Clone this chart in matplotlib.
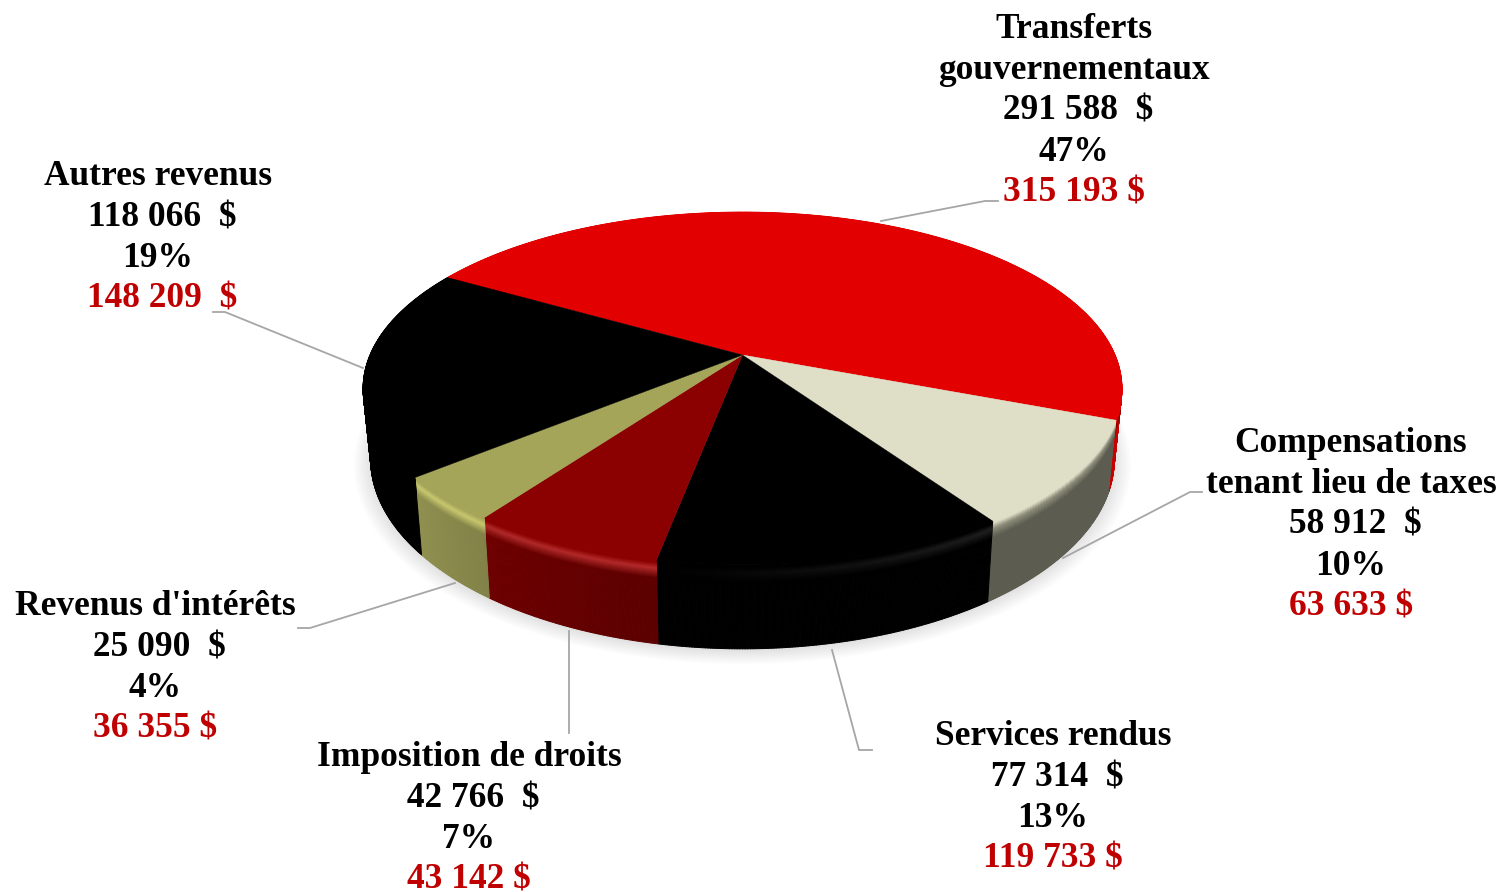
"""Perspective 3D pie of revenue sources, drawn with matplotlib polygons."""

import matplotlib

matplotlib.use("Agg")

import matplotlib.pyplot as plt
import numpy as np
from matplotlib.collections import PolyCollection

categories = [
    ["Transferts", "gouvernementaux"],
    ["Compensations", "tenant lieu de taxes"],
    ["Services rendus"],
    ["Imposition de droits"],
    ["Revenus d'intérêts"],
    ["Autres revenus"],
]
values = [291588, 58912, 77314, 42766, 25090, 118066]
percents = [47, 10, 13, 7, 4, 19]
previous = [315193, 63633, 119733, 43142, 36355, 148209]

START_ANGLE = 150.1
CX, CY = 742.5, 355.0
PERSP = 0.19
RX, RY = 372.5, 170.0
DEPTH = 68.0
BOTTOM_SCALE = 0.98

# top face, highlight at the rim (left and right end), side colour left and right
styles = [
    {"face": "#e30000", "rim": "#7a0000", "rim_end": "#7a0000", "left": "#c80000", "right": "#c80000"},
    {"face": "#dfdfc8", "rim": "#8e8e7c", "rim_end": "#8e8e7c", "left": "#5c5c50", "right": "#5c5c50"},
    {"face": "#000000", "rim": "#000000", "rim_end": "#202020", "left": "#000000", "right": "#000000"},
    {"face": "#8b0000", "rim": "#b02a2a", "rim_end": "#b52a2a", "left": "#5c0000", "right": "#6e0000"},
    {"face": "#a5a55a", "rim": "#c8c870", "rim_end": "#c8c870", "left": "#828248", "right": "#909050"},
    {"face": "#000000", "rim": "#000000", "rim_end": "#000000", "left": "#000000", "right": "#000000"},
]

# centre x and first baseline of each label, then the leader line vertices
label_x = [1074, 1351, 1053, 469, 155, 158]
label_y = [38.4, 452.4, 745.4, 766.4, 615.4, 185.4]
leaders = [
    [(881, 221), (985, 201), (998, 201)],
    [(1063, 558), (1190, 492), (1202, 492)],
    [(832, 650), (859, 750), (872, 750)],
    [(569, 631), (569, 733)],
    [(455, 583), (310, 628), (298, 628)],
    [(363, 368), (225, 312), (213, 312)],
]
LINE_STEP = 40.8
FONT = "Liberation Serif"
FONT_SIZE = 25.5


def top_point(theta_deg, radius=1.0):
    """Project a point of the unit disc to the picture, far side shrunk."""
    theta = np.radians(theta_deg)
    x = radius * np.cos(theta)
    y = radius * np.sin(theta)
    w = 1 + PERSP * y
    return CX + RX * x / w, CY - RY * y / w


def bottom_point(theta_deg, radius=1.0):
    sx, sy = top_point(theta_deg, radius)
    w = 1 + PERSP * radius * np.sin(np.radians(theta_deg))
    return CX + BOTTOM_SCALE * (sx - CX), sy + DEPTH / w


def rgb(color):
    return np.array(matplotlib.colors.to_rgb(color))


def side_color(style, frac, t):
    """Colour of the rim at depth t (0 top, 1 bottom) across the slice."""
    side = rgb(style["left"]) * (1 - frac) + rgb(style["right"]) * frac
    rim = rgb(style["rim_end"]) * (1 - frac) + rgb(style["rim"]) * frac
    face = rgb(style["face"])
    stops = np.array([0.0, 0.03, 0.1, 0.22, 1.0])
    colors = np.array([face, face, rim, side, side])
    return [np.interp(t, stops, colors[:, i]) for i in range(3)]


fig = plt.figure(figsize=(15.02, 8.92), dpi=100)
ax = fig.add_axes([0, 0, 1, 1])
ax.set_xlim(0, 1502)
ax.set_ylim(892, 0)
ax.axis("off")

# soft shadow under the pie
angles = np.linspace(0, 360, 361)
for grow in np.linspace(1.045, 0.97, 16):
    sx, sy = bottom_point(angles, 1.0)
    sx = CX + (sx - CX) * grow
    sy = CY + 2 + (sy - CY) * grow
    ax.fill(sx, sy, color="black", alpha=0.012, lw=0, zorder=1)

sweep = np.array(values) / sum(values) * 360
edges = START_ANGLE - np.concatenate([[0], np.cumsum(sweep)])

# rim
t_grid = np.concatenate([np.linspace(0, 0.24, 21), np.linspace(0.24, 1, 5)[1:]])
for i, style in enumerate(styles):
    thetas = np.linspace(edges[i], edges[i + 1], max(int(sweep[i]), 2) * 3)
    quads, colors = [], []
    for j in range(len(thetas) - 1):
        a, b = thetas[j], thetas[j + 1]
        ax0, ay0 = top_point(a)
        ax1, ay1 = bottom_point(a)
        bx0, by0 = top_point(b)
        bx1, by1 = bottom_point(b)
        for t0, t1 in zip(t_grid[:-1], t_grid[1:]):
            quads.append([
                (ax0 + (ax1 - ax0) * t0, ay0 + (ay1 - ay0) * t0),
                (bx0 + (bx1 - bx0) * t0, by0 + (by1 - by0) * t0),
                (bx0 + (bx1 - bx0) * t1, by0 + (by1 - by0) * t1),
                (ax0 + (ax1 - ax0) * t1, ay0 + (ay1 - ay0) * t1),
            ])
            colors.append(side_color(style, j / len(thetas), (t0 + t1) / 2))
    ax.add_collection(PolyCollection(
        quads, facecolors=colors, edgecolors=colors, linewidths=0.7, zorder=2 + i * 0.01
    ))

# top faces
for i, style in enumerate(styles):
    thetas = np.linspace(edges[i], edges[i + 1], max(int(sweep[i]), 2) * 3)
    px, py = top_point(thetas)
    ax.fill(
        np.concatenate([[CX], px]), np.concatenate([[CY], py]),
        color=style["face"], lw=0.3, zorder=3,
    )

# leader lines
for pts in leaders:
    lx, ly = zip(*pts)
    ax.plot(lx, ly, color="#a6a6a6", lw=1.3, solid_joinstyle="miter", zorder=1.5)

# labels
for i, name in enumerate(categories):
    amount = f"{values[i]:,}".replace(",", " ")
    old = f"{previous[i]:,}".replace(",", " ")
    lines = list(name) + [f" {amount}  $", f"{percents[i]}%"]
    if i == 5:
        lines.append(f" {old}  $")
    else:
        lines.append(f"{old} $")
    for n, line in enumerate(lines):
        ax.text(
            label_x[i], label_y[i] + n * LINE_STEP, line,
            ha="center", va="baseline", family=FONT, weight="bold", fontsize=FONT_SIZE,
            color="#c00000" if n == len(lines) - 1 else "black", zorder=5,
        )

fig.savefig("out.png", dpi=100)
